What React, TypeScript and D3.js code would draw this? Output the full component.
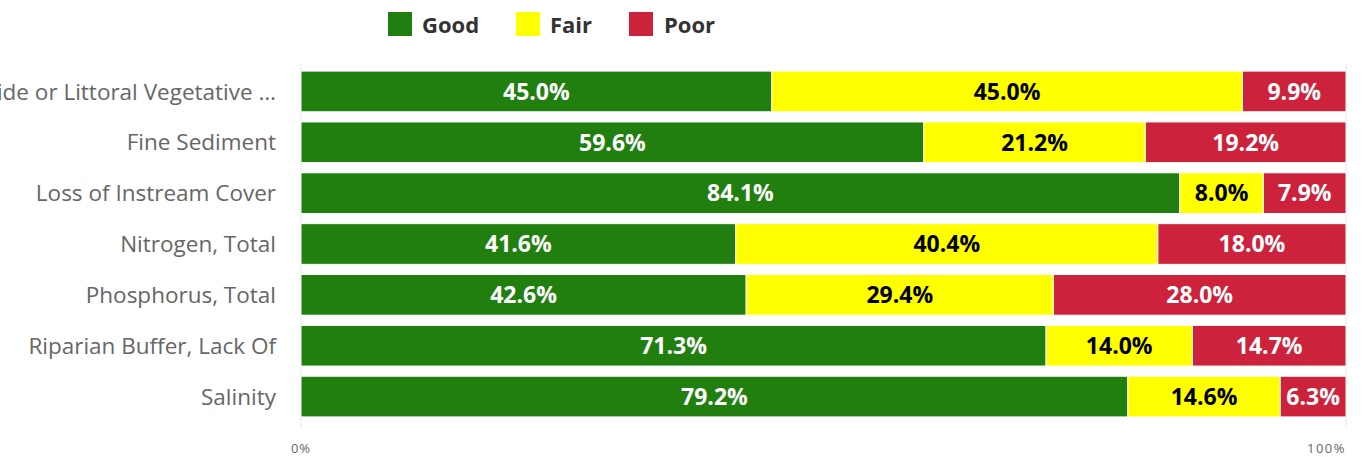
import React from "react";
import * as d3 from "d3";

const categories = [
  "Lakeside or Littoral Vegetative …",
  "Fine Sediment",
  "Loss of Instream Cover",
  "Nitrogen, Total",
  "Phosphorus, Total",
  "Riparian Buffer, Lack Of",
  "Salinity",
];
const seriesNames = ["Good", "Fair", "Poor"];
const good = [45.0, 59.6, 84.1, 41.6, 42.6, 71.3, 79.2];
const fair = [45.0, 21.2, 8.0, 40.4, 29.4, 14.0, 14.6];
const poor = [9.9, 19.2, 7.9, 18.0, 28.0, 14.7, 6.3];
const colors = ["#217f10", "#ffff00", "#cc223b"];
const labelColors = ["#ffffff", "#000000", "#ffffff"];
const xTicks = [0, 100];

const W = 1370;
const H = 457;
const FONT = "'Open Sans', sans-serif";

export default function App() {
  const left = 301;
  const right = 1346;
  const top = 66;
  const bottom = 422;
  const x = d3.scaleLinear().domain([0, 100]).range([left, right]);
  const y = d3.scaleBand<string>().domain(categories).range([top, bottom]).paddingInner(0.2).paddingOuter(0.1);

  const rows = categories.map((c, i) => ({ cat: c, Good: good[i], Fair: fair[i], Poor: poor[i] }));
  const stack = d3.stack<any>().keys(seriesNames).offset(d3.stackOffsetExpand);
  const layers = stack(rows);

  const legendItems = [
    { name: "Good", sx: 388, tx: 422 },
    { name: "Fair", sx: 516, tx: 550 },
    { name: "Poor", sx: 629, tx: 664 },
  ];

  return (
    <svg width={W} height={H} style={{ position: "absolute", left: 0, top: 0, fontFamily: FONT }}>
      <rect width={W} height={H} fill="#fff" />
      {xTicks.map((t) => (
        <line key={t} x1={x(t)} x2={x(t)} y1={top - 2} y2={bottom + 6} stroke="#e6e6e6" strokeWidth={1} />
      ))}
      {layers.map((layer, si) => (
        <g key={layer.key}>
          {layer.map((d, i) => {
            const x0 = x(d[0] * 100);
            const x1 = x(d[1] * 100);
            const yy = y(categories[i])!;
            const h = y.bandwidth();
            const val = [good, fair, poor][si][i];
            return (
              <g key={i}>
                <rect x={x0} y={yy} width={x1 - x0} height={h} fill={colors[si]} stroke="#ffffff" strokeWidth={1} />
                <text
                  x={(x0 + x1) / 2}
                  y={yy + h / 2}
                  dy="0.36em"
                  textAnchor="middle"
                  fontSize={23}
                  fontWeight="bold"
                  fill={labelColors[si]}
                >
                  {val.toFixed(1) + "%"}
                </text>
              </g>
            );
          })}
        </g>
      ))}
      {categories.map((c) => (
        <text key={c} x={276} y={y(c)! + y.bandwidth() / 2} dy="0.36em" textAnchor="end" fontSize={22.5} fill="#666666">
          {c}
        </text>
      ))}
      <text x={x(0)} y={453} textAnchor="middle" fontSize={13} letterSpacing={1} fill="#666666">0%</text>
      <text x={right} y={453} textAnchor="end" fontSize={13} letterSpacing={1.5} fill="#666666">100%</text>
      {legendItems.map((l, i) => (
        <g key={l.name}>
          <rect x={l.sx} y={12} width={24} height={24} fill={colors[i]} />
          <text x={l.tx} y={25} dy="0.36em" fontSize={22} fontWeight="bold" fill="#333333">
            {l.name}
          </text>
        </g>
      ))}
    </svg>
  );
}
